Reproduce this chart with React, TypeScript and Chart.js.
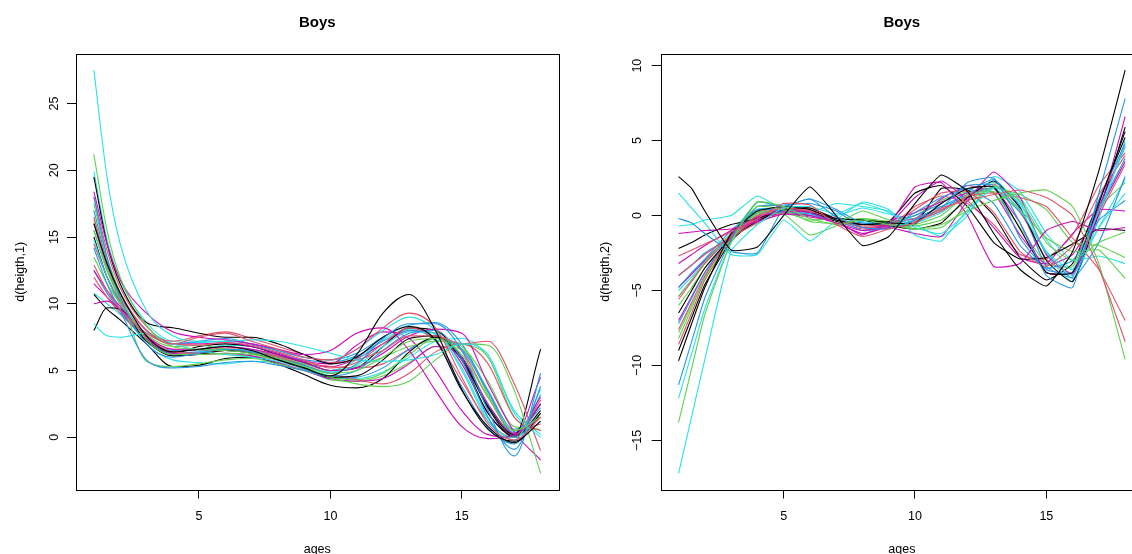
import React, { useEffect, useRef } from 'react';
import { Chart, registerables } from 'chart.js';

Chart.register(...registerables);

// Ages at which the derivatives are evaluated
const AGES = [1, 1.5, 2, 3, 4, 5, 6, 7, 8, 9, 10, 11, 12, 13, 14, 15, 16, 17, 18];
const X_TICKS = [5, 10, 15];
const Y_TICKS_VEL = [0, 5, 10, 15, 20, 25];
const Y_TICKS_ACC = [-15, -10, -5, 0, 5, 10];
const PALETTE = ['#000000', '#DF536B', '#61D04F', '#2297E6', '#28E2E5', '#CD0BBC'];

// Left panel: d(heigth,1) per boy
const VEL_01 = [16.0, 13.0, 10.8, 7.6, 6.4, 6.6, 6.8, 6.5, 5.8, 5.2, 4.6, 6.2, 9.3, 10.7, 8.0, 3.6, 0.6, -0.3, 1.2];
const VEL_02 = [12.9, 11.0, 9.6, 7.8, 7.0, 7.5, 7.8, 7.2, 6.6, 6.0, 5.8, 6.6, 8.2, 9.3, 8.2, 4.5, 1.0, -0.2, 1.5];
const VEL_03 = [21.2, 15.5, 12.0, 8.4, 6.8, 6.6, 6.5, 6.3, 5.9, 5.3, 4.8, 5.0, 6.0, 7.2, 7.4, 6.2, 3.0, 0.5, 1.5];
const VEL_04 = [18.0, 13.5, 10.5, 7.0, 6.0, 6.3, 6.6, 6.4, 5.9, 5.4, 4.8, 5.5, 7.4, 8.5, 8.5, 6.5, 2.0, -1.4, 4.8];
const VEL_05 = [27.5, 19.5, 14.5, 9.5, 7.6, 7.2, 7.2, 7.3, 7.2, 6.8, 6.3, 5.8, 5.7, 5.8, 6.2, 7.0, 6.2, 1.8, 0.0];
const VEL_06 = [18.4, 14.5, 11.8, 9.3, 7.9, 7.5, 7.3, 7.0, 6.6, 6.2, 6.5, 7.8, 8.2, 6.5, 3.5, 0.8, -0.1, 0.2, 1.5];
const VEL_07 = [19.5, 14.5, 11.5, 8.6, 8.2, 7.8, 7.5, 7.5, 7.0, 6.2, 5.5, 6.0, 7.5, 8.3, 7.3, 3.5, 0.8, -0.4, 1.8];
const VEL_08 = [16.5, 13.0, 10.8, 8.0, 7.2, 7.6, 7.9, 7.4, 6.8, 6.2, 5.6, 5.8, 6.5, 7.6, 7.6, 7.0, 7.2, 4.0, -1.0];
const VEL_09 = [16.3, 12.8, 10.5, 7.3, 6.2, 6.2, 6.3, 6.2, 5.8, 5.2, 4.5, 4.0, 3.8, 4.2, 5.8, 7.0, 6.9, 3.5, -2.7];
const VEL_10 = [14.2, 11.5, 9.5, 5.8, 5.2, 5.3, 5.6, 5.7, 5.4, 5.0, 4.6, 5.0, 6.5, 7.8, 8.0, 5.8, 1.5, -0.9, 3.8];
const VEL_11 = [8.5, 7.6, 7.5, 7.8, 7.0, 6.5, 6.2, 6.0, 5.7, 5.3, 4.9, 5.4, 6.8, 7.9, 7.8, 5.0, 1.2, 0.0, 1.5];
const VEL_12 = [12.5, 11.0, 9.8, 7.6, 6.6, 6.6, 6.8, 6.6, 6.2, 5.6, 5.0, 5.2, 6.3, 7.6, 8.1, 7.8, 4.0, 0.4, -1.7];
const VEL_13 = [8.0, 9.7, 9.6, 7.2, 6.1, 6.2, 6.5, 6.3, 5.8, 5.2, 4.5, 4.6, 5.8, 7.4, 7.6, 5.8, 2.3, 0.2, 6.6];
const VEL_14 = [12.0, 10.5, 9.3, 7.5, 6.4, 6.3, 6.5, 6.4, 6.0, 5.4, 4.8, 4.3, 4.0, 4.8, 6.4, 7.0, 5.5, 1.5, 0.5];
const VEL_15 = [17.5, 13.5, 10.8, 5.7, 5.3, 5.5, 5.8, 5.9, 5.5, 5.0, 4.5, 4.3, 4.8, 6.2, 7.4, 6.8, 4.2, 0.8, 0.6];
const VEL_16 = [17.0, 13.2, 10.8, 8.0, 7.0, 7.2, 7.4, 7.0, 6.5, 6.0, 5.8, 6.3, 7.5, 8.4, 8.6, 7.0, 3.5, 0.6, 1.5];
const VEL_17 = [19.9, 14.8, 11.8, 8.6, 7.2, 7.1, 7.2, 7.0, 6.5, 6.0, 5.8, 6.6, 8.0, 9.0, 8.0, 5.2, 1.4, -0.2, 3.6];
const VEL_18 = [10.0, 10.2, 9.6, 7.4, 6.3, 6.2, 6.3, 6.1, 5.6, 5.0, 4.4, 4.2, 4.4, 5.5, 6.8, 6.0, 2.5, 0.3, 3.0];
const VEL_19 = [10.7, 9.6, 8.8, 7.0, 5.3, 5.4, 5.9, 6.0, 5.5, 4.7, 3.9, 3.7, 4.4, 6.4, 7.5, 6.0, 2.2, 0.0, 2.0];
const VEL_20 = [18.0, 14.0, 11.2, 8.3, 7.0, 6.9, 7.1, 6.9, 6.4, 5.8, 5.2, 5.6, 7.0, 8.2, 7.3, 4.2, 1.2, 0.0, 2.8];
const VEL_21 = [13.5, 11.5, 10.0, 7.7, 6.8, 6.9, 6.6, 6.4, 6.0, 5.5, 5.0, 5.3, 6.0, 6.8, 7.2, 7.0, 6.0, 1.5, 0.5];
const VEL_22 = [12.5, 10.8, 9.5, 7.2, 6.3, 6.4, 6.5, 6.3, 5.8, 5.1, 4.4, 4.5, 5.2, 6.6, 7.4, 6.6, 3.4, 0.3, 2.2];
const VEL_23 = [14.8, 12.0, 10.0, 7.0, 5.8, 5.6, 5.5, 5.7, 5.6, 5.2, 4.6, 4.4, 4.9, 6.0, 7.2, 7.4, 6.0, 2.0, 0.2];
const VEL_24 = [16.0, 12.8, 10.6, 8.0, 7.0, 7.0, 7.1, 6.8, 6.3, 5.7, 5.5, 6.9, 7.9, 7.4, 5.0, 2.0, 0.2, 0.0, 2.5];
const VEL_25 = [15.0, 12.0, 10.0, 7.3, 6.3, 6.8, 7.0, 6.8, 6.2, 5.6, 5.0, 5.2, 6.8, 8.2, 8.0, 5.8, 1.8, 0.1, 2.5];
const VEL_26 = [14.5, 12.0, 10.2, 7.6, 6.6, 6.5, 6.7, 6.6, 6.1, 5.6, 5.3, 5.2, 5.5, 6.6, 7.5, 6.5, 3.0, 0.5, 1.0];
const VEL_27 = [15.5, 12.5, 10.3, 7.5, 6.4, 6.3, 6.2, 6.1, 5.8, 5.3, 4.3, 4.2, 4.6, 5.6, 6.8, 6.6, 3.2, 0.2, 1.8];
const VEL_28 = [15.5, 12.5, 10.4, 7.6, 6.5, 6.5, 6.6, 6.5, 6.1, 5.8, 5.6, 6.1, 7.2, 8.0, 7.2, 3.8, 0.7, -0.5, 3.2];
const VEL_29 = [10.8, 10.0, 9.2, 7.4, 6.5, 6.6, 6.9, 6.8, 6.3, 5.7, 5.0, 5.8, 7.3, 8.1, 7.7, 5.8, 2.4, 0.4, 2.4];
const VEL_30 = [11.5, 10.5, 9.5, 7.2, 6.2, 6.3, 6.5, 6.4, 6.0, 5.5, 5.3, 5.9, 7.0, 8.0, 7.8, 5.5, 1.8, 0.2, 4.5];

// Right panel: d(heigth,2) per boy
const ACC_01 = [2.6, 1.8, 0.3, -2.3, -2.1, 0.0, 1.9, 0.0, -2.0, -1.4, 0.8, 2.7, 1.6, -1.2, -3.6, -4.7, -2.4, 3.0, 9.7];
const ACC_02 = [-2.7, -2.3, -1.9, -1.1, -0.2, 0.8, 0.7, -0.6, -1.4, -0.9, -0.5, 0.5, 1.0, 1.4, 1.7, 1.2, 0.0, -3.5, -8.4];
const ACC_03 = [-13.8, -10.2, -6.6, -1.8, 0.9, 0.6, -0.2, -0.6, -0.3, -0.6, -0.9, -0.6, 0.3, 1.0, 1.5, 1.7, 0.6, -3.2, -9.6];
const ACC_04 = [-11.3, -8.4, -5.5, -1.6, 0.9, 0.6, 1.1, -0.1, -0.8, -0.9, -0.3, 0.5, 2.2, 2.5, -0.5, -4.0, -4.8, 1.5, 7.8];
const ACC_05 = [-17.2, -13.4, -9.6, -2.4, -0.6, 0.5, 0.6, 0.1, 0.8, 0.2, -0.8, -1.2, 0.2, 1.9, 0.8, -2.4, -3.6, 0.3, 4.6];
const ACC_06 = [-1.2, -1.1, -1.0, -0.9, -0.4, 0.1, 0.0, -0.5, -1.0, -0.6, 1.9, 2.2, 0.0, -3.4, -3.2, -1.0, -0.4, -1.0, -0.8];
const ACC_07 = [-9.7, -7.2, -4.8, -1.2, 0.3, 0.6, 0.4, -0.3, -0.6, -0.5, -0.5, 0.8, 1.8, 1.9, -0.9, -3.8, -3.8, 0.8, 5.6];
const ACC_08 = [-4.0, -3.3, -2.6, -1.4, 0.0, 0.5, 0.3, -0.3, -0.8, -0.7, 0.4, 1.5, 1.6, 0.2, -2.4, -3.4, -2.0, 1.4, 4.0];
const ACC_09 = [-5.4, -4.3, -3.1, -1.2, 0.6, 0.4, -0.4, -0.5, 0.3, -0.3, -0.9, -0.8, 0.6, 2.0, 1.0, -1.8, -3.0, -1.8, -1.1];
const ACC_10 = [-0.2, -0.5, -1.2, -2.4, -2.5, 0.5, 1.1, 0.4, -0.5, -0.5, 0.0, 0.8, 2.0, 2.0, -1.5, -3.6, -3.8, 1.0, 4.8];
const ACC_11 = [1.5, 0.5, -0.5, -2.6, -2.6, -0.3, -1.7, -0.3, 0.9, 0.4, -1.3, -1.7, 0.4, 1.8, 0.4, -2.5, -4.0, -0.8, 1.5];
const ACC_12 = [-3.2, -2.6, -2.0, -1.0, -0.1, 0.3, 0.2, -0.5, -1.2, -0.8, -1.2, -1.4, 1.0, 2.9, 1.2, -2.6, -3.9, 0.2, 6.6];
const ACC_13 = [-2.2, -1.8, -1.3, -0.6, -0.2, 0.4, 0.5, -0.2, -0.3, -0.4, 1.5, 2.0, 0.6, -1.8, -2.9, -2.8, -1.9, -0.9, -1.0];
const ACC_14 = [-7.6, -5.8, -4.0, -1.5, -0.5, 0.2, 0.3, -0.3, -0.7, -0.6, -0.4, 0.3, 1.3, 1.5, 1.2, 0.6, -1.5, -3.6, -7.0];
const ACC_15 = [-7.8, -6.0, -4.2, -1.6, 0.1, 0.1, -1.3, -0.7, -0.2, -0.5, -0.6, 0.0, 1.4, 1.6, 0.4, -1.5, -2.4, -2.3, -4.2];
const ACC_16 = [-4.8, -3.8, -2.9, -1.0, 0.4, 0.3, 0.0, -0.3, -1.0, -0.8, 0.2, 1.2, 1.8, 0.8, -2.0, -3.5, -3.0, -0.3, 1.0];
const ACC_17 = [-0.7, -0.6, -0.3, 0.0, 1.3, 0.4, 0.2, 0.8, 0.6, 0.3, -0.6, -1.4, 0.0, 2.6, 1.6, -1.2, -3.0, -2.7, -3.2];
const ACC_18 = [-4.8, -3.9, -3.0, -1.3, -0.1, 0.4, 0.3, -0.2, -0.8, -0.6, 1.2, 2.3, 1.0, -0.8, -2.8, -3.2, -1.2, 0.4, 0.3];
const ACC_19 = [-6.5, -5.0, -3.5, -1.5, -0.4, 0.4, 0.3, -0.4, -0.6, -0.7, -0.9, -0.5, 1.2, 2.3, 0.5, -3.0, -4.4, 0.2, 5.9];
const ACC_20 = [-8.6, -6.5, -4.3, -1.6, -0.2, 0.6, 0.5, -0.2, -0.6, -0.5, -0.2, 0.4, 1.2, 2.1, 0.3, -2.9, -3.8, 0.0, 3.4];
const ACC_21 = [-6.0, -4.8, -3.5, -1.5, 0.2, 0.3, 0.0, -0.3, -0.2, -0.4, -0.7, -0.3, 1.0, 1.8, 1.4, 0.4, -1.8, -2.0, -2.8];
const ACC_22 = [-7.2, -5.5, -3.8, -1.3, 0.2, 0.2, 0.1, -0.3, -0.5, -0.6, -0.2, 0.6, 1.4, 1.8, 0.2, -2.4, -4.2, -1.8, 2.6];
const ACC_23 = [-12.2, -9.2, -6.2, -1.8, 0.4, 0.4, 0.1, -0.2, -0.4, -0.6, -0.5, 0.2, 1.4, 2.2, 0.9, -2.6, -4.4, -0.2, 5.0];
const ACC_24 = [-7.0, -5.4, -3.8, -1.4, -0.3, 0.2, 0.0, -0.4, -1.3, -0.4, 0.2, 0.9, 1.5, 1.8, -0.5, -3.8, -3.8, 0.6, 4.6];
const ACC_25 = [-9.0, -6.8, -4.6, -1.7, -0.2, 0.3, 0.2, -0.2, -0.3, -0.7, -0.6, 1.8, 1.7, 0.0, -2.8, -4.3, -3.2, 1.0, 5.2];
const ACC_26 = [-5.6, -4.4, -3.2, -1.2, 0.2, 0.5, 0.2, -0.4, -0.9, -0.8, 0.6, 1.3, 0.8, -0.6, -2.6, -2.9, -1.3, 2.0, 4.2];
const ACC_27 = [-8.2, -6.2, -4.1, -1.4, 0.0, 0.2, -0.3, -0.2, -0.3, -0.4, 0.0, 1.0, 1.6, 1.5, -0.8, -3.2, -3.4, 0.5, 2.2];
const ACC_28 = [-4.0, -3.3, -2.5, -1.4, 0.6, 0.7, 0.8, 0.3, -0.8, -0.8, -0.3, 0.3, 1.6, 2.4, 0.6, -3.4, -4.1, 0.4, 3.8];
const ACC_29 = [-5.0, -4.1, -3.1, -1.3, 0.9, 0.5, 0.2, 0.0, 0.5, 0.1, -0.2, 0.6, 1.2, 1.9, 1.2, -1.6, -3.6, -0.8, 2.4];
const ACC_30 = [-5.4, -4.3, -3.2, -1.4, -0.2, 0.1, -0.1, -0.4, -0.6, -0.4, -0.2, 1.1, 2.0, 1.5, -1.3, -3.3, -2.6, 0.3, 3.6];

const VEL_CURVES = [VEL_01, VEL_02, VEL_03, VEL_04, VEL_05, VEL_06, VEL_07, VEL_08, VEL_09, VEL_10,
  VEL_11, VEL_12, VEL_13, VEL_14, VEL_15, VEL_16, VEL_17, VEL_18, VEL_19, VEL_20,
  VEL_21, VEL_22, VEL_23, VEL_24, VEL_25, VEL_26, VEL_27, VEL_28, VEL_29, VEL_30];
const ACC_CURVES = [ACC_01, ACC_02, ACC_03, ACC_04, ACC_05, ACC_06, ACC_07, ACC_08, ACC_09, ACC_10,
  ACC_11, ACC_12, ACC_13, ACC_14, ACC_15, ACC_16, ACC_17, ACC_18, ACC_19, ACC_20,
  ACC_21, ACC_22, ACC_23, ACC_24, ACC_25, ACC_26, ACC_27, ACC_28, ACC_29, ACC_30];

const FONT = "'Liberation Sans', Arial, Helvetica, sans-serif";
Chart.defaults.font.family = FONT;
Chart.defaults.color = '#000';

function extend(lo: number, hi: number) {
  const d = (hi - lo) * 0.04;
  return [lo - d, hi + d];
}

const boxPlugin = {
  id: 'rbox',
  afterDatasetsDraw(chart: any) {
    const { ctx, chartArea: a } = chart;
    ctx.save();
    ctx.strokeStyle = '#000';
    ctx.lineWidth = 1;
    ctx.strokeRect(Math.round(a.left) + 0.5, Math.round(a.top) + 0.5, Math.round(a.right - a.left), Math.round(a.bottom - a.top));
    ctx.restore();
  },
};

interface Geom {
  yWidth: number;
  padRight: number;
  yTickPad: number;
  yTitlePad: number;
  tension: number;
  monotone: boolean;
}

function makeConfig(curves: number[][], yTicks: number[], yTitle: string, g: Geom): any {
  const all = curves.flat();
  const [ymin, ymax] = extend(Math.min(...all), Math.max(...all));
  const [xmin, xmax] = extend(AGES[0], AGES[AGES.length - 1]);
  const tickFont = { family: FONT, size: 12.5 };
  const gridOpts = { display: true, drawOnChartArea: false, drawTicks: true, tickLength: 9, color: '#000', lineWidth: 1 };
  return {
    type: 'line',
    data: {
      datasets: curves.map((c, i) => ({
        data: AGES.map((a, j) => ({ x: a, y: c[j] })),
        borderColor: PALETTE[i % PALETTE.length],
        borderWidth: 1.1,
        pointRadius: 0,
        fill: false,
        tension: g.tension,
        cubicInterpolationMode: g.monotone ? 'monotone' : 'default',
      })),
    },
    options: {
      responsive: false,
      animation: false,
      events: [],
      layout: { padding: { left: 0, top: 0, right: g.padRight, bottom: 0 } },
      plugins: {
        legend: { display: false },
        tooltip: { enabled: false },
        title: {
          display: true,
          fullSize: false,
          text: 'Boys',
          color: '#000',
          font: { family: FONT, size: 15, weight: 'bold', lineHeight: 1.2 },
          padding: { top: 13.5, bottom: 22.5 },
        },
      },
      scales: {
        x: {
          type: 'linear',
          min: xmin,
          max: xmax,
          afterBuildTicks: (s: any) => { s.ticks = X_TICKS.map((value) => ({ value })); },
          afterFit: (s: any) => { s.height = 64.5; },
          grid: gridOpts,
          border: { display: false },
          ticks: { color: '#000', font: tickFont, padding: 11, maxRotation: 0, autoSkip: false },
          title: {
            display: true,
            text: 'ages',
            color: '#000',
            font: { family: FONT, size: 12.5, lineHeight: 1.2 },
            padding: { top: 0, bottom: -3.2 },
          },
        },
        y: {
          type: 'linear',
          min: ymin,
          max: ymax,
          afterBuildTicks: (s: any) => { s.ticks = yTicks.map((value) => ({ value })); },
          afterFit: (s: any) => { s.width = g.yWidth; },
          grid: gridOpts,
          border: { display: false },
          ticks: {
            color: '#000',
            font: tickFont,
            padding: g.yTickPad,
            minRotation: 90,
            maxRotation: 90,
            crossAlign: 'center',
            autoSkip: false,
            callback: (v: any) => String(v).replace('-', '\u2212'),
          },
          title: {
            display: true,
            text: yTitle,
            color: '#000',
            font: { family: FONT, size: 12.5, lineHeight: 1.2 },
            padding: { top: g.yTitlePad, bottom: 0 },
          },
        },
      },
    },
    plugins: [boxPlugin],
  };
}

export default function App() {
  const leftRef = useRef<HTMLCanvasElement>(null);
  const rightRef = useRef<HTMLCanvasElement>(null);

  useEffect(() => {
    const left = new Chart(leftRef.current as HTMLCanvasElement, makeConfig(VEL_CURVES, Y_TICKS_VEL, 'd(heigth,1)', {
      yWidth: 76, padRight: 23.5, yTickPad: 6, yTitlePad: 13, tension: 0.4, monotone: true,
    }));
    const right = new Chart(rightRef.current as HTMLCanvasElement, makeConfig(ACC_CURVES, Y_TICKS_ACC, 'd(heigth,2)', {
      yWidth: 78.7, padRight: 21, yTickPad: 3.5, yTitlePad: 16.5, tension: 0.15, monotone: false,
    }));
    return () => {
      left.destroy();
      right.destroy();
    };
  }, []);

  return (
    <div style={{ position: 'fixed', left: 0, top: 0, width: 1132, height: 554, overflow: 'hidden', background: '#fff' }}>
      <canvas ref={leftRef} width={582} height={554} style={{ position: 'absolute', left: 0, top: 0 }} />
      <canvas ref={rightRef} width={582} height={554} style={{ position: 'absolute', left: 582, top: 0 }} />
    </div>
  );
}
